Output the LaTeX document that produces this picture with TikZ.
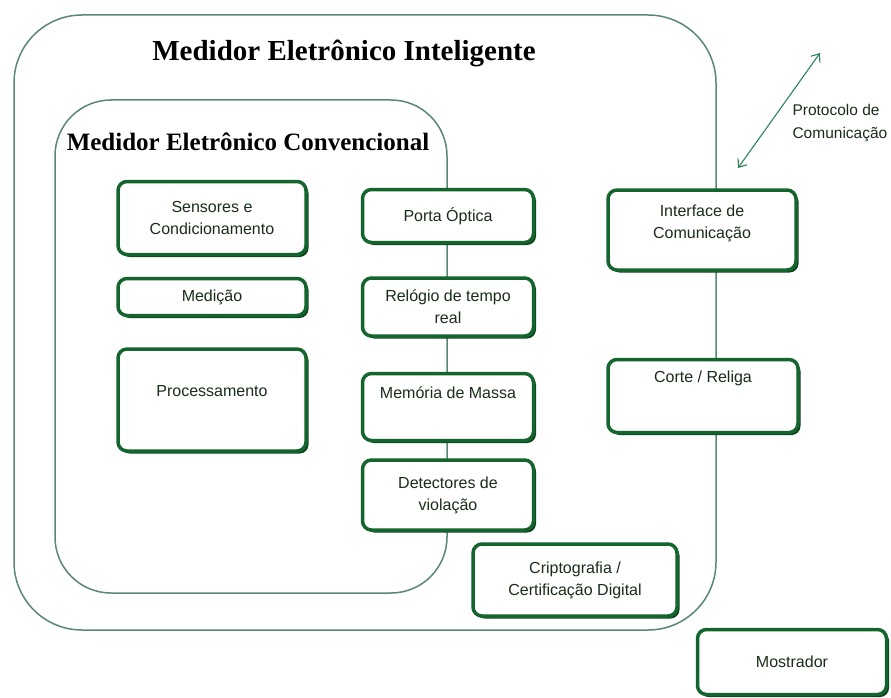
\documentclass[tikz,border=0pt]{standalone}
\usepackage{fontspec}
\setmainfont{Liberation Serif}
\setsansfont{Liberation Sans}
\usepackage{xcolor}
\usepackage{tikz}
\usetikzlibrary{shadows,arrows.meta}

\definecolor{boxgreen}{RGB}{20,100,45}
\definecolor{shadegreen}{RGB}{10,65,28}
\definecolor{framegray}{RGB}{90,135,115}
\definecolor{textgreen}{RGB}{25,45,25}
\definecolor{arrowgreen}{RGB}{45,130,90}

\begin{document}
\begin{tikzpicture}[x=1pt, y=-1pt,
    box/.style={rectangle, draw=boxgreen, line width=3.5pt, rounded corners=9pt, fill=white,
                general shadow={fill=shadegreen, shadow xshift=2.5pt, shadow yshift=-2.5pt},
                align=center, inner sep=2pt, text=textgreen,
                font=\sffamily\fontsize{16}{22}\selectfont},
    frame/.style={draw=framegray, line width=1.5pt},
    arr/.style={{Straight Barb[length=7pt, width=11pt]}-{Straight Barb[length=7pt, width=11pt]},
                draw=arrowgreen, line width=1.1pt},
    lbl/.style={align=left, text=textgreen, font=\sffamily\fontsize{15.5}{23}\selectfont},
    ttl/.style={font=\bfseries\fontsize{29}{32}\selectfont},
    subttl/.style={font=\bfseries\fontsize{25}{28}\selectfont},
  ]
  \useasboundingbox (0,0) rectangle (891,698);

  % Frames
  \draw[frame, rounded corners=68pt] (14,15) rectangle (716,630);
  \draw[frame, rounded corners=56pt] (55,100) rectangle (447,593);

  % Titles
  \node[ttl] (intel) at (344, 53) {Medidor Eletrônico Inteligente};
  \node[subttl] (conv) at (248, 142) {Medidor Eletrônico Convencional};

  % Left column
  \node[box, minimum width=188pt, minimum height=73pt] (sens) at (212, 218) {Sensores e\\Condicionamento};
  \node[box, minimum width=188pt, minimum height=37pt] (med) at (212, 297) {Medição};
  \node[box, minimum width=188pt, minimum height=102pt, text depth=19pt] (proc) at (212, 400) {Processamento};

  % Middle column
  \node[box, minimum width=171pt, minimum height=53pt] (porta) at (448, 216) {Porta Óptica};
  \node[box, minimum width=171pt, minimum height=58pt] (relog) at (448, 307) {Relógio de tempo\\real};
  \node[box, minimum width=171pt, minimum height=67pt, text depth=29pt] (mem) at (448, 407) {Memória de Massa};
  \node[box, minimum width=171pt, minimum height=70pt] (detec) at (448, 495) {Detectores de\\violação};

  % Smart meter parts
  \node[box, minimum width=204pt, minimum height=72pt] (cripto) at (575, 580) {Criptografia /\\Certificação Digital};
  \node[box, minimum width=188pt, minimum height=80pt, text depth=17pt] (interf) at (702, 230) {Interface de\\Comunicação};
  \node[box, minimum width=190pt, minimum height=73pt, text depth=39pt] (corte) at (703, 396) {Corte / Religa};

  % Display
  \node[box, minimum width=189pt, minimum height=65pt] (mostr) at (792, 662) {Mostrador};

  % Protocol
  \coordinate (plow) at (738, 168);
  \coordinate (phigh) at (820, 53);
  \draw[arr] (plow) -- (phigh);
  \node[lbl, anchor=west] (proto) at (789, 123) {Protocolo de\\Comunicação};

\end{tikzpicture}
\end{document}
